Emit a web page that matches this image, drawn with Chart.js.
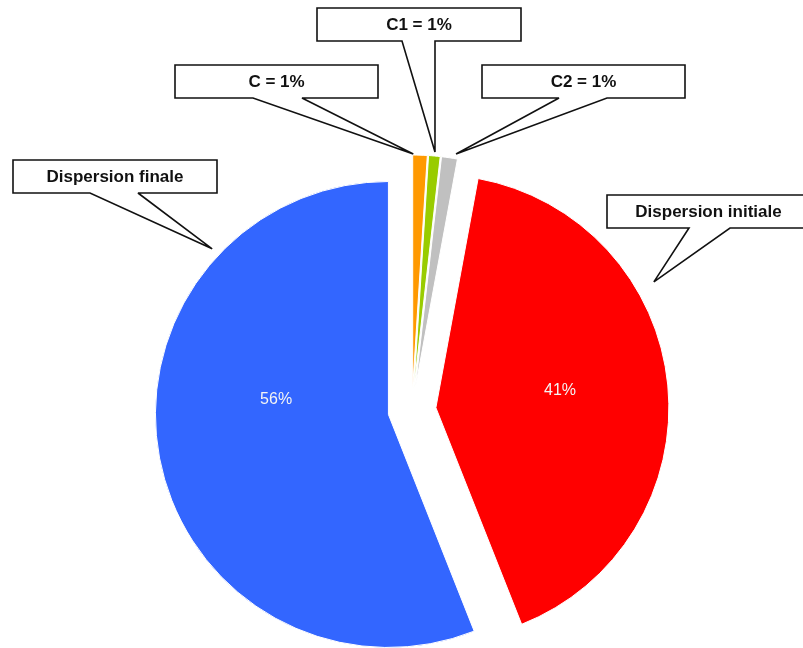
<!DOCTYPE html>
<html><head><meta charset="utf-8">
<script src="https://cdn.jsdelivr.net/npm/chart.js@4"></script>
<style>html,body{margin:0;padding:0;background:#fff;}canvas{display:block;}</style>
</head><body>
<canvas id="c" width="803" height="648"></canvas>
<script>
// ---- data ----
const categories = ['C', 'C1', 'C2', 'Dispersion initiale', 'Dispersion finale'];
const shares = [1.0, 0.8, 1.1, 41.1, 56.0];
const sliceColors = ['#FF9900', '#99CC00', '#C0C0C0', '#FF0000', '#3366FF'];
const calloutWithValue = [true, true, true, false, false];

// ---- layout / styling ----
const explodeDist = [22, 22, 22, 24, 24];
const calloutLayout = [
  {box: [175, 65, 203, 33], base: [78, 127], tip: [0.04, 1]},
  {box: [317, 8, 204, 33], base: [85, 118], tip: [0.52, 4]},
  {box: [482, 65, 203, 33], base: [77, 125], tip: [0.86, 4.7]},
  {box: [607, 195, 203, 33], base: [82, 123], tip: [0.335, 18.7]},
  {box: [13, 160, 204, 33], base: [77, 125], tip: [0.768, 8.9]}
];
const insideLayout = [null, null, null, {frac: 0.484, r: 0.538}, {frac: 0.590, r: 0.486}];

const total = shares.reduce((a, b) => a + b, 0);
const pctText = v => Math.round(v / total * 100) + '%';

const explodePlugin = {
  id: 'explode',
  afterDatasetsUpdate(chart) {
    const meta = chart.getDatasetMeta(0);
    meta.data.forEach((arc, i) => {
      const mid = (arc.startAngle + arc.endAngle) / 2;
      const d = explodeDist[i] || 0;
      arc.x += Math.cos(mid) * d;
      arc.y += Math.sin(mid) * d;
    });
  }
};

const calloutPlugin = {
  id: 'callouts',
  afterDatasetsDraw(chart) {
    const ctx = chart.ctx;
    const meta = chart.getDatasetMeta(0);
    meta.data.forEach((arc, i) => {
      const span = arc.endAngle - arc.startAngle;
      const ins = insideLayout[i];
      if (ins) {
        const a = arc.startAngle + ins.frac * span;
        const r = arc.outerRadius * ins.r;
        ctx.save();
        ctx.font = '16px "Liberation Sans", Arial, sans-serif';
        ctx.fillStyle = '#f4f4f4';
        ctx.textAlign = 'center';
        ctx.textBaseline = 'middle';
        ctx.fillText(pctText(shares[i]), arc.x + Math.cos(a) * r, arc.y + Math.sin(a) * r);
        ctx.restore();
      }
      const co = calloutLayout[i];
      if (co) {
        const [bx, by, bw, bh] = co.box;
        const ta = arc.startAngle + co.tip[0] * span;
        const tr = arc.outerRadius + co.tip[1];
        const tx = arc.x + Math.cos(ta) * tr, ty = arc.y + Math.sin(ta) * tr;
        ctx.save();
        ctx.beginPath();
        ctx.moveTo(bx, by);
        ctx.lineTo(bx + bw, by);
        ctx.lineTo(bx + bw, by + bh);
        ctx.lineTo(bx + co.base[1], by + bh);
        ctx.lineTo(tx, ty);
        ctx.lineTo(bx + co.base[0], by + bh);
        ctx.lineTo(bx, by + bh);
        ctx.closePath();
        ctx.fillStyle = '#ffffff';
        ctx.fill();
        ctx.lineWidth = 1.6;
        ctx.lineJoin = 'miter';
        ctx.miterLimit = 3;
        ctx.strokeStyle = '#111';
        ctx.stroke();
        const txt = calloutWithValue[i] ? categories[i] + ' = ' + pctText(shares[i]) : categories[i];
        ctx.font = 'bold 17px "Liberation Sans", Arial, sans-serif';
        ctx.fillStyle = '#111';
        ctx.textAlign = 'center';
        ctx.textBaseline = 'middle';
        ctx.fillText(txt, bx + bw / 2, by + bh / 2 + 1);
        ctx.restore();
      }
    });
  }
};

new Chart(document.getElementById('c'), {
  type: 'pie',
  data: {
    labels: categories,
    datasets: [{
      data: shares,
      backgroundColor: sliceColors,
      borderColor: '#ffffff',
      borderWidth: 1,
      radius: 233
    }]
  },
  options: {
    responsive: false,
    animation: false,
    devicePixelRatio: 1,
    layout: {padding: {left: 21, top: 172, right: 0, bottom: 0}},
    plugins: {legend: {display: false}, tooltip: {enabled: false}}
  },
  plugins: [explodePlugin, calloutPlugin]
});
</script>
</body></html>
